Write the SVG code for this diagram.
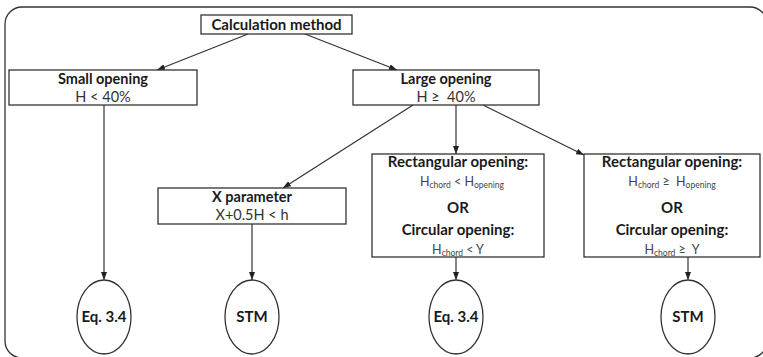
<svg xmlns="http://www.w3.org/2000/svg" width="763" height="357" viewBox="0 0 763 357">
<defs>
<marker id="a" markerWidth="8" markerHeight="6" refX="8" refY="3" orient="auto" markerUnits="userSpaceOnUse">
<path d="M0,0 L8,3 L0,6 z" fill="#222"/>
</marker>
<style>
.frame{fill:#fff;stroke:#333;stroke-width:1.3}
.box{fill:#fff;stroke:#333;stroke-width:1.3}
.ell{fill:#fff;stroke:#333;stroke-width:1.3}
.conn line{stroke:#333;stroke-width:1.2;marker-end:url(#a)}
text{font-family:Lato,"Open Sans","Liberation Sans",sans-serif;text-anchor:middle;fill:#1a1a1a}
.b{font-weight:bold;font-size:15px}
.t{font-weight:bold;font-size:14.5px}
.r{font-size:14.5px;fill:#333}
.m{font-size:12.5px;fill:#444}
.sub{font-size:8.5px}
</style>
</defs>
<rect class="frame" x="5" y="7" width="762" height="351" rx="17" ry="17"/>
<g class="conn">
<line x1="248" y1="34" x2="157" y2="70"/>
<line x1="305" y1="34" x2="397" y2="70"/>
<line x1="413" y1="105" x2="283" y2="188"/>
<line x1="456" y1="105" x2="456" y2="154"/>
<line x1="483" y1="105" x2="584" y2="155"/>
<line x1="104" y1="105" x2="104" y2="280"/>
<line x1="252" y1="224" x2="252" y2="280"/>
<line x1="456" y1="257" x2="456" y2="280"/>
<line x1="688" y1="257" x2="688" y2="280"/>
</g>
<g id="calc">
<rect class="box" x="201" y="15" width="151" height="19"/>
<text class="b" x="276.5" y="30">Calculation method</text>
</g>
<g id="small">
<rect class="box" x="9" y="70" width="188" height="35"/>
<text class="t" x="103" y="84">Small opening</text>
<text class="r" x="103" y="102">H &lt; 40%</text>
</g>
<g id="large">
<rect class="box" x="353" y="70" width="186" height="35"/>
<text class="t" x="446" y="84">Large opening</text>
<text class="r" x="446" y="102" xml:space="preserve">H ≥  40%</text>
</g>
<g id="xparam">
<rect class="box" x="158" y="188" width="188" height="36"/>
<text class="t" x="252" y="202">X parameter</text>
<text class="r" x="252" y="220">X+0.5H &lt; h</text>
</g>
<g id="rect1">
<rect class="box" x="372" y="154" width="172" height="103"/>
<text class="b" x="458" y="167">Rectangular opening:</text>
<text class="m" x="462" y="186">H<tspan class="sub" dy="2">chord</tspan><tspan dy="-2"> &lt; H</tspan><tspan class="sub" dy="2">opening</tspan></text>
<text class="b" x="458" y="213">OR</text>
<text class="b" x="458" y="235">Circular opening:</text>
<text class="m" x="458" y="254">H<tspan class="sub" dy="2">chord</tspan><tspan dy="-2"> &lt; Y</tspan></text>
</g>
<g id="rect2">
<rect class="box" x="584" y="154" width="176" height="103"/>
<text class="b" x="672" y="167">Rectangular opening:</text>
<text class="m" x="672" y="186" xml:space="preserve">H<tspan class="sub" dy="2">chord</tspan><tspan dy="-2"> ≥  H</tspan><tspan class="sub" dy="2">opening</tspan></text>
<text class="b" x="672" y="213">OR</text>
<text class="b" x="672" y="235">Circular opening:</text>
<text class="m" x="672" y="254" xml:space="preserve">H<tspan class="sub" dy="2">chord</tspan><tspan dy="-2"> ≥  Y</tspan></text>
</g>
<g id="eq1">
<ellipse class="ell" cx="104" cy="317" rx="27" ry="37"/>
<text class="b" x="104" y="322">Eq. 3.4</text>
</g>
<g id="stm1">
<ellipse class="ell" cx="252" cy="317" rx="27" ry="37"/>
<text class="b" x="252" y="322">STM</text>
</g>
<g id="eq2">
<ellipse class="ell" cx="456" cy="317" rx="27" ry="37"/>
<text class="b" x="456" y="322">Eq. 3.4</text>
</g>
<g id="stm2">
<ellipse class="ell" cx="688" cy="317" rx="27" ry="37"/>
<text class="b" x="688" y="322">STM</text>
</g>
</svg>
